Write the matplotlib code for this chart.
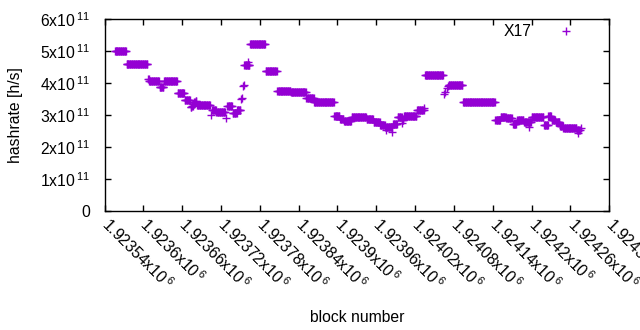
#!/usr/bin/env python3
"""Hashrate per block (X17) - gnuplot-like scatter of '+' points."""

import numpy as np
import matplotlib
matplotlib.use("Agg")
import matplotlib.pyplot as plt

# ============================================================================
# Data (hashrate in units of 1e11 h/s)
# ============================================================================
# constant-hashrate runs: first block, last block, value
seg_start = [1923556, 1923574, 1923607, 1923609, 1923625, 1923632, 1923653, 1923664,
             1923673, 1923675, 1923677, 1923679, 1923681, 1923683, 1923706, 1923713,
             1923730, 1923738, 1923745, 1923756, 1923765, 1923789, 1923807, 1923828,
             1923852, 1923864, 1923895, 1923904, 1923910, 1923922, 1923945, 1923956,
             1923966, 1923974, 1923986, 1923993, 1924000, 1924003, 1924023, 1924035,
             1924072, 1924094, 1924144, 1924152, 1924161, 1924171, 1924178, 1924188,
             1924200, 1924219, 1924226, 1924231, 1924237, 1924244, 1924249, 1924270]
seg_end = [1923573, 1923606, 1923608, 1923624, 1923631, 1923652, 1923663, 1923672,
           1923674, 1923676, 1923678, 1923680, 1923682, 1923703, 1923712, 1923726,
           1923737, 1923744, 1923750, 1923764, 1923788, 1923806, 1923827, 1923851,
           1923863, 1923894, 1923903, 1923909, 1923921, 1923944, 1923955, 1923965,
           1923973, 1923984, 1923992, 1923999, 1924002, 1924022, 1924033, 1924063,
           1924093, 1924143, 1924151, 1924160, 1924169, 1924176, 1924187, 1924199,
           1924218, 1924225, 1924230, 1924236, 1924243, 1924248, 1924269, 1924274]
seg_value = [5.00, 4.59, 4.14, 4.08, 3.88, 4.08, 3.68, 3.46,
             3.24, 3.29, 3.35, 3.40, 3.44, 3.31, 3.16, 3.09,
             3.29, 3.06, 3.16, 4.57, 5.22, 4.37, 3.75, 3.71,
             3.53, 3.40, 2.96, 2.87, 2.81, 2.94, 2.87, 2.77,
             2.69, 2.64, 2.71, 2.93, 2.84, 2.97, 3.15, 4.25,
             3.93, 3.40, 2.86, 2.94, 2.90, 2.71, 2.85, 2.80,
             2.95, 2.70, 2.97, 2.86, 2.78, 2.67, 2.59, 2.52]

# single outlying points
pt_block = [1923704, 1923728, 1923751, 1923752, 1923754, 1923755, 1923762, 1923975,
            1923985, 1924000, 1924033, 1924064, 1924066, 1924069, 1924071, 1924196,
            1924272, 1924276]
pt_value = [3.02, 2.92, 3.50, 3.53, 3.90, 3.94, 4.67, 2.54,
            2.48, 2.75, 3.23, 3.65, 3.73, 3.84, 3.91, 2.64,
            2.43, 2.59]

x_ticks = [1923540, 1923600, 1923660, 1923720, 1923780, 1923840, 1923900,
           1923960, 1924020, 1924080, 1924140, 1924200, 1924260, 1924320]
y_ticks = [0, 1, 2, 3, 4, 5, 6]

# ============================================================================
# Style
# ============================================================================
plt.rcParams['font.family'] = ['Liberation Sans', 'DejaVu Sans']
plt.rcParams['mathtext.fontset'] = 'custom'
plt.rcParams['mathtext.rm'] = 'Liberation Sans'
plt.rcParams['mathtext.it'] = 'Liberation Sans:italic'
plt.rcParams['mathtext.bf'] = 'Liberation Sans:bold'
FS = 11.3
COLOR = '#9400D3'

# expand runs to one point per block
xs, ys = [], []
for a, b, v in zip(seg_start, seg_end, seg_value):
    blocks = np.arange(a, b + 1)
    xs.append(blocks)
    ys.append(np.full(len(blocks), v))
xs.append(np.array(pt_block))
ys.append(np.array(pt_value))
x = np.concatenate(xs)
y = np.concatenate(ys) * 1e11

fig = plt.figure(figsize=(6.4, 3.3), dpi=100)
ax = fig.add_axes([104.5 / 640, 1 - 211 / 330, 504.8 / 640, 191.7 / 330])

ax.plot(x, y, linestyle='none', marker='+', markersize=5.2, markeredgewidth=1.0,
        color=COLOR, label='X17')

ax.set_xlim(x_ticks[0], x_ticks[-1])
ax.set_ylim(0, 6e11)

ax.set_xticks(x_ticks)
ax.set_xticklabels([f'{t / 1e6:g}x10$\\,^{{6}}$' for t in x_ticks],
                   rotation=-45, ha='left', va='center', rotation_mode='anchor', fontsize=FS)
ax.set_yticks([v * 1e11 for v in y_ticks])
ax.set_yticklabels(['0' if v == 0 else f'{v}x10$\\,^{{11}}$' for v in y_ticks], fontsize=FS)

ax.tick_params(direction='in', length=4, width=1, top=True, right=True, colors='black')
ax.tick_params(axis='y', pad=10)
ax.tick_params(axis='x', pad=7)
for s in ax.spines.values():
    s.set_linewidth(1)

ax.set_xlabel('block number', fontsize=FS)
ax.xaxis.set_label_coords(0.5, -0.515)
ax.set_ylabel('hashrate [h/s]', fontsize=FS)
ax.yaxis.set_label_coords(-0.161, 0.5)

ax.legend(loc='center right', bbox_to_anchor=(0.946, 0.934), frameon=False,
          markerfirst=False, handlelength=2, handletextpad=1.2, borderpad=0,
          borderaxespad=0, fontsize=FS)

plt.savefig('out.png', dpi=100)
plt.close()
